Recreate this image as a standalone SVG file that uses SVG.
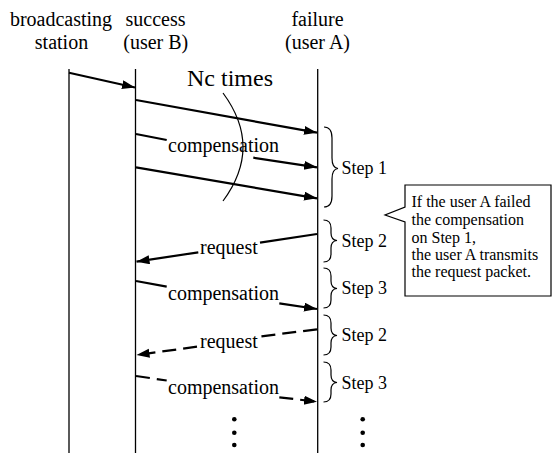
<svg xmlns="http://www.w3.org/2000/svg" width="553" height="453" viewBox="0 0 553 453">
<style>
text{font-family:"Liberation Serif","Times New Roman",serif;fill:#000}
.hd{font-size:20px;text-anchor:middle}
.lb{font-size:20px}
.st{font-size:18px}
.co{font-size:16px}
.life{stroke:#000;stroke-width:1.3;fill:none}
.msg{stroke:#000;stroke-width:2.2;fill:none}
.dash{stroke-dasharray:14 7}
.br{stroke:#000;stroke-width:1.2;fill:none}
</style>
<defs>
<marker id="ah" markerUnits="userSpaceOnUse" markerWidth="14" markerHeight="10" refX="13" refY="4.5" orient="auto">
<path d="M0,0 L13,4.5 L0,9 Z" fill="#000"/>
</marker>
</defs>
<g id="station">
<text class="hd" x="61" y="26">broadcasting</text>
<text class="hd" x="61.5" y="49">station</text>
<line class="life" x1="69" y1="69" x2="69" y2="453"/>
</g>
<g id="userB">
<text class="hd" x="155.5" y="26">success</text>
<text class="hd" x="155.8" y="49">(user B)</text>
<line class="life" x1="135.5" y1="69" x2="135.5" y2="453"/>
</g>
<g id="userA">
<text class="hd" x="317.5" y="26">failure</text>
<text class="hd" x="317.5" y="49">(user A)</text>
<line class="life" x1="317.7" y1="69" x2="317.7" y2="453"/>
</g>
<g id="connectors">
<line class="msg" x1="69" y1="72.7" x2="135" y2="87.5" marker-end="url(#ah)"/>
<line class="msg" x1="136" y1="100" x2="317" y2="132.7" marker-end="url(#ah)"/>
<line class="msg" x1="136" y1="134" x2="166.7" y2="140"/>
<line class="msg" x1="253.3" y1="157.7" x2="317" y2="167.3" marker-end="url(#ah)"/>
<line class="msg" x1="136" y1="167.3" x2="317" y2="198.3" marker-end="url(#ah)"/>
<path class="br" d="M223,93 Q263,147 223,201"/>
<line class="msg" x1="317" y1="234" x2="260" y2="242.7"/>
<line class="msg" x1="198.3" y1="252.3" x2="136.5" y2="261.7" marker-end="url(#ah)"/>
<line class="msg" x1="136" y1="281" x2="166.7" y2="286.7"/>
<line class="msg" x1="279.3" y1="303.3" x2="317" y2="309" marker-end="url(#ah)"/>
<line class="msg dash" x1="317" y1="329.3" x2="258.3" y2="336.7"/>
<line class="msg dash" x1="197" y1="346.7" x2="136.5" y2="355" marker-end="url(#ah)"/>
<line class="msg dash" x1="136" y1="376" x2="166.7" y2="380.5"/>
<line class="msg dash" x1="279.3" y1="397.3" x2="317" y2="401.7" marker-end="url(#ah)"/>
</g>
<g id="labels">
<text x="230" y="86" style="font-size:24px;text-anchor:middle">Nc times</text>
<text class="lb" x="168" y="152">compensation</text>
<text class="lb" x="200" y="254">request</text>
<text class="lb" x="168" y="300">compensation</text>
<text class="lb" x="200" y="348">request</text>
<text class="lb" x="168" y="394">compensation</text>
</g>
<g id="steps">
<path class="br" d="M324,127 Q332,127 332,138 L332,158 Q332,168 338,168.5 Q332,169 332,179 L332,196 Q332,207 324,207"/>
<text class="st" x="341.5" y="174">Step 1</text>
<path class="br" d="M323.5,220 Q331,220 331,228 L331,233 Q331,240 337,240.5 Q331,241 331,248 L331,254 Q331,262 323.5,262"/>
<text class="st" x="341.5" y="246.5">Step 2</text>
<path class="br" d="M323.5,268 Q331,268 331,276 L331,281 Q331,288 337,288.5 Q331,289 331,296 L331,300 Q331,308 323.5,308"/>
<text class="st" x="341.5" y="294">Step 3</text>
<path class="br" d="M323.5,315 Q331,315 331,323 L331,328 Q331,335 337,335.5 Q331,336 331,343 L331,347 Q331,355 323.5,355"/>
<text class="st" x="341.5" y="341">Step 2</text>
<path class="br" d="M323.5,362 Q331,362 331,370 L331,375 Q331,382 337,382.5 Q331,383 331,390 L331,394 Q331,402 323.5,402"/>
<text class="st" x="341.5" y="388.5">Step 3</text>
</g>
<g id="dots">
<circle cx="234.3" cy="419.3" r="2.3"/>
<circle cx="234.3" cy="432.7" r="2.3"/>
<circle cx="234.3" cy="445" r="2.3"/>
<circle cx="362.7" cy="419.3" r="2.3"/>
<circle cx="362.7" cy="432.7" r="2.3"/>
<circle cx="362.7" cy="445" r="2.3"/>
</g>
<g id="callout">
<path d="M405,185 L551,185 L551,296 L405,296 L405,222 L385,215 L405,207 Z" fill="#fff" stroke="#000" stroke-width="1.2"/>
<text class="co" x="411.5" y="207.3">If the user A failed</text>
<text class="co" x="411.5" y="225">the compensation</text>
<text class="co" x="411.5" y="242.7">on Step 1,</text>
<text class="co" x="411.5" y="260">the user A transmits</text>
<text class="co" x="411.5" y="276.7">the request packet.</text>
</g>
</svg>
